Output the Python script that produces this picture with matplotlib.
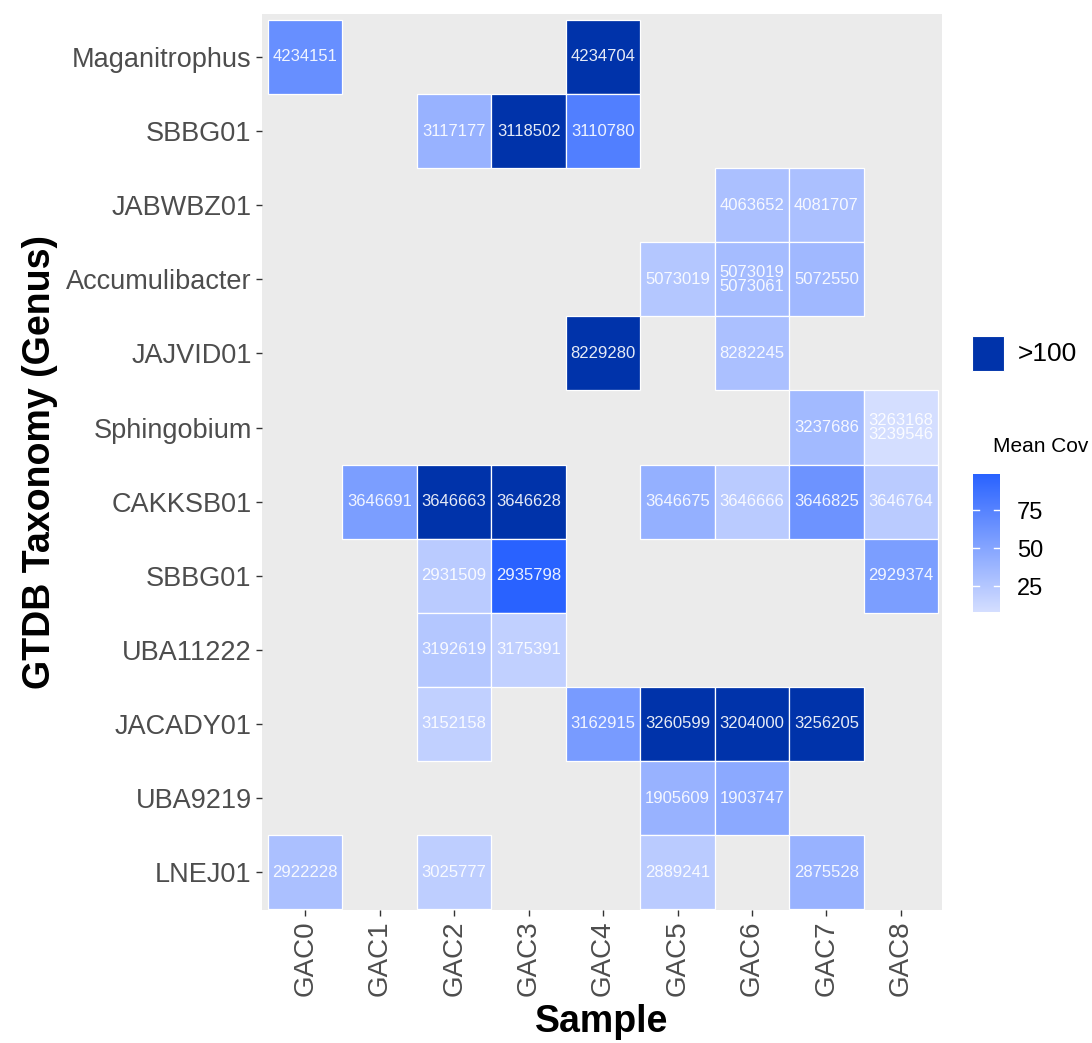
"""Heatmap of mean coverage per genus and sample."""

import matplotlib
matplotlib.use('Agg')
import matplotlib.pyplot as plt
from matplotlib import colors
from matplotlib.colorbar import ColorbarBase
from matplotlib.patches import Rectangle


SAMPLES = ['GAC0', 'GAC1', 'GAC2', 'GAC3', 'GAC4', 'GAC5', 'GAC6', 'GAC7',
           'GAC8']
GENERA = ['Maganitrophus', 'SBBG01', 'JABWBZ01', 'Accumulibacter',
          'JAJVID01', 'Sphingobium', 'CAKKSB01', 'SBBG01', 'UBA11222',
          'JACADY01', 'UBA9219', 'LNEJ01']

# One entry per tile: genus row, sample column, bin label, mean coverage.
# Coverage above 100 is stored as None and drawn in the '>100' colour.
CELL_ROW = [0, 0,
            1, 1, 1,
            2, 2,
            3, 3, 3,
            4, 4,
            5, 5,
            6, 6, 6, 6, 6, 6, 6,
            7, 7, 7,
            8, 8,
            9, 9, 9, 9, 9,
            10, 10,
            11, 11, 11, 11]
CELL_COL = [0, 4,
            2, 3, 4,
            6, 7,
            5, 6, 7,
            4, 6,
            7, 8,
            1, 2, 3, 5, 6, 7, 8,
            2, 3, 8,
            2, 3,
            2, 4, 5, 6, 7,
            5, 6,
            0, 2, 5, 7]
CELL_LABEL = ['4234151', '4234704',
              '3117177', '3118502', '3110780',
              '4063652', '4081707',
              '5073019', '5073019\n5073061', '5072550',
              '8229280', '8282245',
              '3237686', '3263168\n3239546',
              '3646691', '3646663', '3646628', '3646675', '3646666',
              '3646825', '3646764',
              '2931509', '2935798', '2929374',
              '3192619', '3175391',
              '3152158', '3162915', '3260599', '3204000', '3256205',
              '1905609', '1903747',
              '2922228', '3025777', '2889241', '2875528']
CELL_COV = [66, None,
            40, None, 78,
            30, 30,
            25, 33, 36,
            None, 30,
            35, 8,
            55, None, None, 42, 22, 63, 22,
            22, 99, 55,
            25, 18,
            18, 57, None, None, None,
            40, 47,
            30, 20, 22, 40]

COLORBAR_TICKS = [25, 50, 75]

LOW_COLOR = '#D4DEFF'
HIGH_COLOR = '#2962FF'
OVER_COLOR = '#0033AA'
PANEL_COLOR = '#EBEBEB'
TICK_TEXT = '#4D4D4D'

plt.rcParams['font.family'] = ['Liberation Sans', 'DejaVu Sans']


def main():
  fig = plt.figure(figsize=(10.92, 10.43), dpi=100)
  ax = fig.add_axes([0.240, 0.1275, 0.6225, 0.8591])
  ax.set_facecolor(PANEL_COLOR)

  cmap = colors.LinearSegmentedColormap.from_list(
      'cov', [LOW_COLOR, HIGH_COLOR])
  known = [value for value in CELL_COV if value is not None]
  norm = colors.Normalize(vmin=min(known), vmax=max(known))

  for row, col, label, cov in zip(CELL_ROW, CELL_COL, CELL_LABEL, CELL_COV):
    face = OVER_COLOR if cov is None else cmap(norm(cov))
    ax.add_patch(Rectangle(
        (col - 0.5, row - 0.5), 1, 1, facecolor=face,
        edgecolor='white', linewidth=0.9))
    ax.text(col, row, label, ha='center', va='center', color='white',
            alpha=0.9, fontsize=12, linespacing=0.95)

  ax.set_xlim(-0.58, len(SAMPLES) - 1 + 0.55)
  ax.set_ylim(len(GENERA) - 1 + 0.51, -0.58)
  ax.set_xticks(range(len(SAMPLES)))
  ax.set_xticklabels(SAMPLES, rotation=90, fontsize=20, color=TICK_TEXT)
  ax.set_yticks(range(len(GENERA)))
  ax.set_yticklabels(GENERA, fontsize=19.5, color=TICK_TEXT)
  ax.tick_params(length=4.5, width=1.0, color='#333333', pad=3)
  for spine in ax.spines.values():
    spine.set_visible(False)
  ax.set_xlabel('Sample', fontsize=27, fontweight='bold', labelpad=6)
  ax.set_ylabel('GTDB Taxonomy (Genus)', fontsize=27, fontweight='bold',
                labelpad=6)

  # '>100' key
  fig.patches.append(Rectangle(
      (972 / 1092, 1 - 371 / 1043), 32 / 1092, 35 / 1043,
      transform=fig.transFigure, facecolor=OVER_COLOR,
      edgecolor='white', linewidth=0.8))
  fig.text(1018 / 1092, 1 - 354 / 1043, '>100', fontsize=19,
           va='center', ha='left')

  fig.text(993 / 1092, 1 - 447 / 1043, 'Mean Cov', fontsize=15,
           va='center', ha='left')
  cax = fig.add_axes([973 / 1092, 1 - 612 / 1043, 27 / 1092, 138 / 1043])
  bar = ColorbarBase(cax, cmap=cmap, norm=norm, ticks=COLORBAR_TICKS)
  bar.outline.set_visible(False)
  cax.tick_params(length=0, labelsize=17, pad=12)
  for tick in COLORBAR_TICKS:
    cax.plot([0, 0.22], [tick, tick], color='white', linewidth=1,
             transform=cax.get_yaxis_transform())
    cax.plot([0.78, 1], [tick, tick], color='white', linewidth=1,
             transform=cax.get_yaxis_transform())

  fig.savefig('out.png', dpi=100)
  plt.close(fig)


if __name__ == '__main__':
  main()
